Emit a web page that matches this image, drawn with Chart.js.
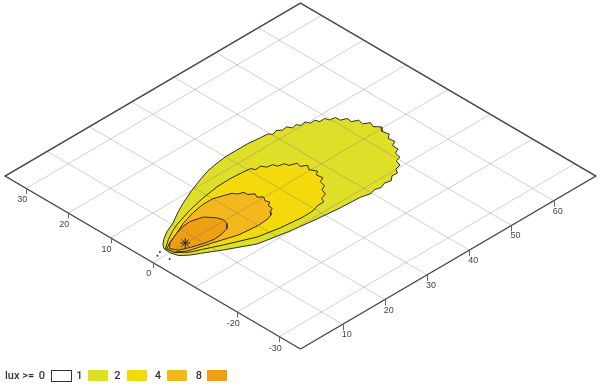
<!DOCTYPE html>
<html><head><meta charset="utf-8">
<script src="https://cdn.jsdelivr.net/npm/chart.js@4"></script>
<style>html,body{margin:0;padding:0;background:#fff}#wrap{width:600px;height:389px;position:relative}</style>
</head><body><div id="wrap"><canvas id="c"></canvas></div>
<script>
// ---- data (distance x along road, lateral y) ----
const xRange = [0, 70];
const yRange = [-35, 35];
const xTicks = [10, 20, 30, 40, 50, 60];
const yTicks = [30, 20, 10, 0, -20, -30];
const xGrid = [10, 20, 30, 40, 50, 60];
const yGrid = [-30, -20, -10, 0, 10, 20, 30];
const luxLevels = [0, 1, 2, 4, 8];
const luxColors = ['#ffffff', '#dfdf2a', '#f4da0c', '#f5b81c', '#ef9f12'];

const contour1 = [[4.1,1.4],[4.8,2.4],[6.0,3.4],[8.0,4.6],[10.4,5.6],[13.0,7.1],[15.6,8.4],[19.0,9.9],[22.3,11.1],[25.0,12.0],[27.7,12.5],[30.2,12.8],[32.7,12.8],[35.3,12.8],[37.9,12.5],[39.6,12.4],[40.2,11.7],[41.3,12.1],[42.2,11.4],[43.3,11.6],[43.8,10.7],[44.9,10.9],[45.3,10.2],[46.5,10.4],[46.9,9.5],[48.0,9.6],[48.3,8.7],[49.5,8.8],[49.8,7.9],[51.0,7.7],[51.0,6.6],[52.2,6.1],[52.0,5.0],[53.2,4.4],[52.9,3.2],[54.1,2.5],[53.6,1.4],[54.5,0.4],[53.7,-0.6],[54.0,-2.0],[53.0,-2.8],[53.2,-4.2],[52.1,-4.7],[52.0,-6.1],[50.9,-6.6],[50.6,-8.0],[49.4,-8.3],[49.0,-9.6],[47.7,-9.9],[47.1,-10.9],[45.9,-10.8],[44.8,-11.7],[43.5,-11.4],[42.2,-11.9],[41.0,-11.5],[39.8,-11.9],[37.8,-11.4],[33.2,-11.15],[28.3,-10.65],[22.6,-9.9],[16.1,-8.6],[10.85,-5.8],[7.5,-3.8],[5.9,-2.9],[4.5,-1.7],[4.0,-0.1],[4.1,1.4]];
const contour2 = [[4.3,1.3],[5.2,1.9],[6.5,2.8],[8.5,3.9],[10.5,4.8],[15.0,6.2],[19.0,7.1],[22.9,7.7],[26.0,7.8],[29.0,7.6],[30.6,7.4],[31.0,6.6],[32.3,6.7],[32.8,5.8],[34.0,5.6],[34.3,4.7],[35.6,4.4],[35.8,3.5],[37.2,3.0],[36.9,2.0],[38.0,1.3],[37.3,0.3],[38.0,-1.0],[37.1,-1.7],[37.3,-3.0],[36.2,-3.5],[35.9,-4.8],[34.8,-5.3],[34.3,-6.6],[33.0,-7.0],[32.5,-8.0],[31.0,-8.0],[29.6,-8.5],[27.0,-8.6],[22.1,-8.1],[17.5,-7.2],[11.9,-4.8],[8.5,-3.2],[6.5,-2.3],[4.6,-0.6],[4.3,1.3]];
const contour4 = [[4.4,1.1],[6.0,2.0],[8.8,3.1],[11.5,4.3],[14.8,5.3],[17.5,5.8],[20.0,5.8],[22.3,5.0],[23.4,4.6],[23.9,3.8],[25.0,3.4],[25.0,2.5],[26.0,1.8],[25.6,0.9],[26.4,0.1],[25.8,-0.8],[26.1,-1.6],[25.2,-2.2],[25.1,-3.2],[24.2,-3.6],[23.6,-4.4],[22.5,-4.8],[20.1,-5.0],[15.8,-4.6],[11.3,-3.2],[6.5,-1.8],[4.6,-0.4],[4.4,1.1]];
const contour8 = [[4.8,0.9],[6.0,1.9],[8.5,3.0],[10.8,3.7],[12.6,3.9],[14.5,3.4],[15.2,3.2],[15.8,2.5],[16.6,1.5],[17.0,0.3],[16.7,-0.9],[15.7,-1.9],[14.0,-2.4],[12.0,-2.6],[10.0,-2.2],[7.5,-1.4],[5.5,-0.5],[4.8,0.9]];
const luminaire = [[7.8, 0.1]];
const strayPoints = [[3.0, 1.3], [1.9, 0.8], [2.7, -1.3]];

// ---- projection onto the tilted plane (u = x - y, v = x + y) ----
const P = p => ({ x: p[0] - p[1], y: p[0] + p[1] });

const datasets = [];
const contours = [contour1, contour2, contour4, contour8];
contours.forEach((c, i) => {
  datasets.push({
    data: c.map(P), showLine: true, fill: 'shape', tension: 0,
    backgroundColor: luxColors[i + 1], borderColor: '#2e2e22', borderWidth: 1,
    pointRadius: 0, order: 50 - i * 10
  });
});
xGrid.forEach(g => datasets.push({
  data: [[g, yRange[0]], [g, yRange[1]]].map(P), showLine: true, fill: false,
  borderColor: 'rgba(110,110,110,0.32)', borderWidth: 1, pointRadius: 0, order: 8
}));
yGrid.forEach(g => datasets.push({
  data: [[xRange[0], g], [xRange[1], g]].map(P), showLine: true, fill: false,
  borderColor: 'rgba(110,110,110,0.32)', borderWidth: 1, pointRadius: 0, order: 8
}));
datasets.push({
  data: [[xRange[0], yRange[0]], [xRange[1], yRange[0]], [xRange[1], yRange[1]], [xRange[0], yRange[1]], [xRange[0], yRange[0]]].map(P),
  showLine: true, fill: false, borderColor: '#474747', borderWidth: 1.4, pointRadius: 0, order: 5
});
datasets.push({
  data: strayPoints.map(P), showLine: false, pointRadius: 1, pointBackgroundColor: '#333',
  pointBorderColor: '#333', pointBorderWidth: 0, order: 2
});
datasets.push({
  data: luminaire.map(P), showLine: false, pointStyle: 'star', pointRadius: 5,
  pointBorderColor: '#222', pointBorderWidth: 1, order: 1
});

const overlay = {
  id: 'overlay',
  afterDatasetsDraw(chart) {
    const ctx = chart.ctx, sx = chart.scales.x, sy = chart.scales.y;
    const px = (x, y) => [sx.getPixelForValue(x - y), sy.getPixelForValue(x + y)];
    ctx.save();
    ctx.strokeStyle = '#666'; ctx.lineWidth = 1;
    ctx.fillStyle = '#444';
    ctx.font = '9px "Liberation Sans", Arial, sans-serif';
    ctx.textAlign = 'center'; ctx.textBaseline = 'middle';
    yTicks.forEach(t => {
      const [a, b] = px(xRange[0], t);
      ctx.beginPath(); ctx.moveTo(Math.round(a) + 0.5, b); ctx.lineTo(Math.round(a) + 0.5, b + 5.5); ctx.stroke();
      ctx.fillText(String(t), a - 4, b + 11.5);
    });
    xTicks.forEach(t => {
      const [a, b] = px(t, yRange[0]);
      ctx.beginPath(); ctx.moveTo(Math.round(a) + 0.5, b); ctx.lineTo(Math.round(a) + 0.5, b + 6); ctx.stroke();
      ctx.fillText(String(t), a + 4, b + 10.5);
    });
    // legend
    const ly = 376;
    ctx.fillStyle = '#333';
    ctx.font = '500 11px Roboto, "Liberation Sans", sans-serif';
    ctx.textAlign = 'left';
    ctx.fillText('lux >=', 5, ly);
    const labelX = [42, 79.5, 117.5, 158, 199];
    const boxX = [51, 88, 127, 167, 207];
    luxLevels.forEach((lv, i) => {
      ctx.textAlign = 'center';
      ctx.fillStyle = '#333';
      ctx.fillText(String(lv), labelX[i], ly);
      ctx.fillStyle = luxColors[i];
      ctx.fillRect(boxX[i], 370, 20, 11);
      if (i === 0) { ctx.strokeStyle = '#333'; ctx.strokeRect(boxX[i] + 0.5, 370.5, 20, 11); }
    });
    ctx.restore();
  }
};

new Chart(document.getElementById('c'), {
  type: 'scatter',
  data: { datasets },
  options: {
    responsive: true, maintainAspectRatio: false, animation: false, events: [],
    layout: { padding: 0, autoPadding: false },
    plugins: { legend: { display: false }, tooltip: { enabled: false } },
    scales: {
      x: { type: 'linear', min: -36.2, max: 105.98, display: false },
      y: { type: 'linear', min: -51.19, max: 106.24, display: false }
    }
  },
  plugins: [overlay]
});
</script></body></html>
